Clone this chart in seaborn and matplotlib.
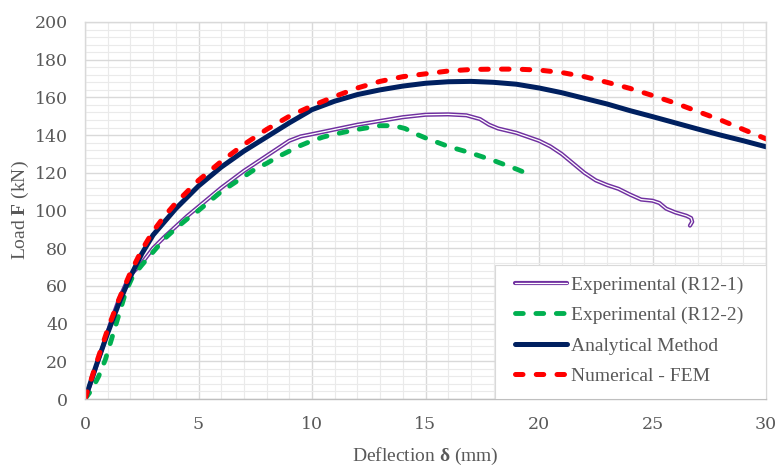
import matplotlib
matplotlib.use("Agg")
import matplotlib.pyplot as plt
import matplotlib.patheffects as pe
from matplotlib.patches import Rectangle
from matplotlib.ticker import MultipleLocator
import seaborn as sns
import pandas as pd

# ---- data ----
r1_x = [0, 0.3, 0.6, 0.9, 1.2, 1.5, 1.8, 2.1, 2.5, 3.0, 3.5, 4.0, 4.5, 5.0, 5.5, 6.0, 6.5, 7.0,
        7.5, 8.0, 8.5, 9.0, 9.5, 10.0, 11, 12, 13, 14, 15, 16, 16.8, 17.4, 17.8, 18.2, 19,
        20, 20.5, 21, 21.5, 22, 22.5, 23, 23.5, 24, 24.5, 25, 25.3, 25.6, 26, 26.5, 26.7,
        26.75, 26.65]
r1_y = [0, 10, 21, 32, 43, 53, 61, 67, 72, 80, 86, 91.5, 97, 102, 107, 112, 116.5, 121,
        125, 129, 133, 137, 139.3, 140.5, 143, 145.5, 147.5, 149.5, 150.8, 151, 150.5, 148.5,
        145.5, 143.5, 141.2, 137, 134, 130, 125, 120, 116, 113.5, 111.5, 108.5, 105.8, 105.2,
        104, 101, 99, 97.2, 96, 94, 92]

r2_x = [0, 0.3, 0.6, 0.9, 1.2, 1.5, 1.8, 2.1, 2.5, 3.0, 3.5, 4.0, 4.5, 5.0, 5.5, 6.0, 6.5,
        7.0, 7.5, 8.0, 8.5, 9.0, 9.5, 10, 10.5, 11, 12, 13, 13.6, 14.1, 14.6, 15, 16, 17,
        18, 19, 19.5]
r2_y = [0, 5, 12, 21, 33, 45, 57, 65, 71, 78, 85, 90.5, 95.5, 100, 105, 110, 114, 118,
        122, 125, 128.5, 131.5, 134.5, 137, 139, 140.5, 143, 145, 145, 143.5, 140.5, 138.5,
        134, 130.5, 126.5, 122, 119.5]

an_x = [0, 0.5, 1.0, 1.5, 2.0, 2.5, 3.0, 3.5, 4, 5, 6, 7, 8, 9, 10, 11, 12, 13, 14, 15, 16,
        17, 18, 19, 20, 21, 22, 23, 24, 25, 26, 27, 28, 29, 30]
an_y = [0, 18, 35, 51, 65, 77, 87, 94, 101, 113, 123, 131.5, 139, 146.5, 153.5, 158,
        161.5, 164, 166, 167.5, 168.3, 168.5, 168, 167, 165, 162.5, 159.5, 156.5, 153,
        149.8, 146.5, 143.2, 140, 137, 133.8]

fem_x = [0, 0.5, 1.0, 1.5, 2.0, 2.5, 3.0, 3.5, 4, 5, 6, 7, 8, 9, 10, 11, 12, 13, 14, 15,
         16, 17, 18, 19, 20, 21, 22, 23, 24, 25, 26, 27, 28, 29, 30]
fem_y = [0, 19, 37, 53, 67, 79, 89, 97, 104, 116, 126, 135, 143, 150, 155.5, 160.5, 165,
         168.5, 171, 172.5, 174, 174.8, 175, 175, 174.5, 173.2, 171, 168, 164.8, 161, 157,
         152.5, 148, 143, 138]

labels = ["Experimental (R12-1)", "Experimental (R12-2)", "Analytical Method", "Numerical - FEM"]
x_ticks = [0, 5, 10, 15, 20, 25, 30]
y_ticks = [0, 20, 40, 60, 80, 100, 120, 140, 160, 180, 200]

# ---- style ----
sns.set_theme(style="whitegrid")
plt.rcParams["font.family"] = ["Liberation Serif", "DejaVu Serif"]
plt.rcParams["mathtext.fontset"] = "custom"
plt.rcParams["mathtext.rm"] = "Liberation Serif"
plt.rcParams["mathtext.bf"] = "Liberation Serif:bold"
plt.rcParams["mathtext.it"] = "Liberation Serif:italic"

grey = "#595959"
fig = plt.figure(figsize=(7.77, 4.69), dpi=100)
ax = fig.add_axes([85 / 777, 1 - 399 / 469, 681 / 777, 377 / 469])
ax.set_facecolor("white")

purple = "#7030a0"
green = "#00b050"
navy = "#002060"
red = "#ff0000"

df1 = pd.DataFrame({"x": r1_x, "y": r1_y})
df2 = pd.DataFrame({"x": r2_x, "y": r2_y})
df3 = pd.DataFrame({"x": an_x, "y": an_y})
df4 = pd.DataFrame({"x": fem_x, "y": fem_y})

sns.lineplot(data=df1, x="x", y="y", sort=False, estimator=None, color="white", lw=0.9,
             label=labels[0], ax=ax)
l1 = ax.lines[-1]
l1.set_path_effects([pe.Stroke(linewidth=3.0, foreground=purple), pe.Normal()])

sns.lineplot(data=df2, x="x", y="y", sort=False, estimator=None, color=green, lw=3.5,
             label=labels[1], ax=ax)
l2 = ax.lines[-1]
l2.set_dashes((1.6, 2.6))
l2.set_dash_capstyle("round")

sns.lineplot(data=df3, x="x", y="y", sort=False, estimator=None, color=navy, lw=3.6,
             label=labels[2], ax=ax)
ax.lines[-1].set_solid_capstyle("round")

sns.lineplot(data=df4, x="x", y="y", sort=False, estimator=None, color=red, lw=3.6,
             label=labels[3], ax=ax)
l4 = ax.lines[-1]
l4.set_dashes((1.5, 2.65))
l4.set_dash_capstyle("round")

ax.set_xlim(0, 30)
ax.set_ylim(0, 200)
ax.set_xticks(x_ticks)
ax.set_yticks(y_ticks)
ax.xaxis.set_minor_locator(MultipleLocator(1))
ax.yaxis.set_minor_locator(MultipleLocator(4))
ax.grid(which="major", color="#d9d9d9", lw=1.0)
ax.grid(which="minor", color="#eaeaea", lw=0.8)
ax.set_axisbelow(True)
for s in ax.spines.values():
    s.set_color("#d9d9d9")
    s.set_linewidth(1.0)
ax.spines["bottom"].set_color("#bfbfbf")

ax.tick_params(which="both", length=0)
ax.tick_params(axis="x", pad=12)
ax.tick_params(axis="y", pad=12)
for t in ax.get_xticklabels() + ax.get_yticklabels():
    t.set_fontfamily("DejaVu Serif")
    t.set_fontsize(12.5)
    t.set_color(grey)

ax.set_xlabel(r"Deflection $\mathbf{δ}$ (mm)", fontsize=14, color=grey)
ax.set_ylabel(r"Load $\mathbf{F}$ (kN)", fontsize=14, color=grey)
ax.xaxis.set_label_coords(0.5, -(446 - 399) / 377)
ax.yaxis.set_label_coords(-(85 - 31) / 681, 0.5)

# legend box (white panel in the lower right corner)
box = Rectangle(((495 - 85) / 681, 0), (766 - 495) / 681, (399 - 265) / 377,
                transform=ax.transAxes, facecolor="white", edgecolor="#d9d9d9",
                lw=0.8, zorder=4.5)
ax.add_patch(box)

leg = ax.legend(loc="upper left", bbox_to_anchor=((515 - 85) / 681, (399 - 276) / 377),
                borderaxespad=0, borderpad=0, frameon=False,
                fontsize=14, handlelength=2.67, handletextpad=0.2, labelspacing=0.66)
leg.set_zorder(5)
for t in leg.get_texts():
    t.set_color(grey)

fig.savefig("out.png", dpi=100)
